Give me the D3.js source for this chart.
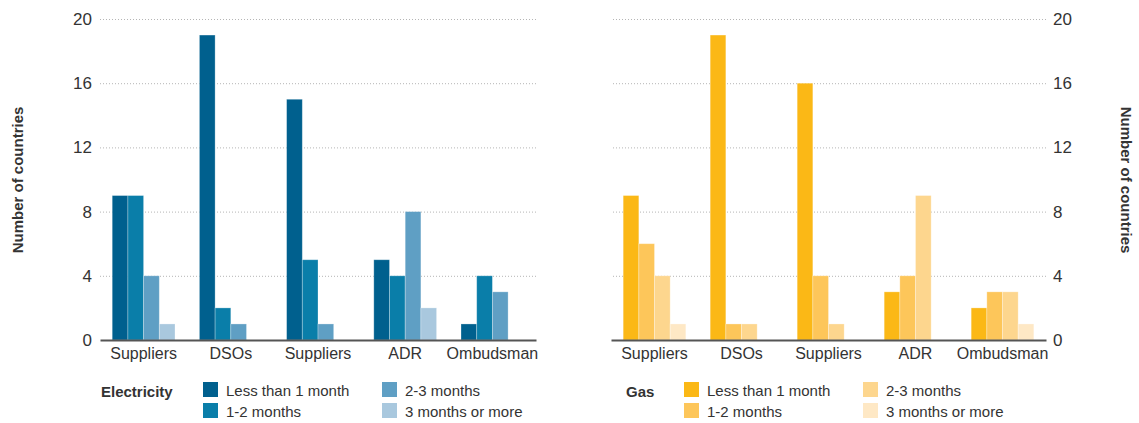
<!DOCTYPE html>
<html>
<head>
<meta charset="utf-8">
<script src="https://cdn.jsdelivr.net/npm/d3@7"></script>
<style>
  body { margin: 0; background: #fff; }
  svg text { font-family: "Liberation Sans", Arial, sans-serif; fill: #333; }
</style>
</head>
<body>
<div id="chart"></div>
<script>
var categories = ["Suppliers", "DSOs", "Suppliers", "ADR", "Ombudsman"];
var seriesNames = ["Less than 1 month", "1-2 months", "2-3 months", "3 months or more"];
var yTicks = [0, 4, 8, 12, 16, 20];

// electricity, one array per series, in category order
var elecLess1 = [9, 19, 15, 5, 1];
var elec1to2 = [9, 2, 5, 4, 4];
var elec2to3 = [4, 1, 1, 8, 3];
var elec3plus = [1, 0, 0, 2, 0];

// gas
var gasLess1 = [9, 19, 16, 3, 2];
var gas1to2 = [6, 1, 4, 4, 3];
var gas2to3 = [4, 1, 1, 9, 3];
var gas3plus = [1, 0, 0, 0, 1];

var elecColors = ["#00608e", "#0a7ea9", "#5f9fc4", "#a9c8de"];
var gasColors = ["#fbb816", "#fdc65a", "#fdd68e", "#fee8c5"];

var width = 1139, height = 423;

var svg = d3.select("#chart")
  .append("svg")
  .attr("width", width)
  .attr("height", height);

var y = d3.scaleLinear().domain([0, 20]).range([340, 19]);

function make_panel(x0, x1, series, colors, side, title) {
  var g = svg.append("g");

  var x = d3.scaleBand()
    .domain(d3.range(categories.length))
    .range([x0, x1])
    .paddingInner(0.28)
    .paddingOuter(0.14);

  var xs = d3.scaleBand()
    .domain(d3.range(series.length))
    .range([0, x.bandwidth()]);

  // gridlines + tick labels
  var yAxis = side == "left"
    ? d3.axisLeft(y).tickValues(yTicks).tickSize(-(x1 - x0)).tickPadding(8)
    : d3.axisRight(y).tickValues(yTicks).tickSize(-(x1 - x0)).tickPadding(7);

  var ya = g.append("g")
    .attr("transform", "translate(" + (side == "left" ? x0 : x1) + ",0)")
    .call(yAxis);
  ya.select(".domain").remove();
  ya.selectAll(".tick line")
    .attr("stroke", "#b5b5b5")
    .attr("stroke-dasharray", "1,2");
  ya.selectAll(".tick text")
    .style("font-size", "17px")
    .attr("fill", "#333");
  ya.selectAll(".tick").filter(function(d) { return d == 0; }).select("line").remove();

  // bars
  var groups = g.selectAll(".grp")
    .data(categories)
    .enter()
    .append("g")
    .attr("transform", function(d, i) { return "translate(" + x(i) + ",0)"; });

  groups.selectAll("rect")
    .data(function(d, i) {
      return series.map(function(s, k) { return {k: k, v: s[i]}; });
    })
    .enter()
    .filter(function(d) { return d.v > 0; })
    .append("rect")
    .attr("x", function(d) { return xs(d.k); })
    .attr("width", xs.bandwidth())
    .attr("y", function(d) { return y(d.v); })
    .attr("height", function(d) { return y(0) - y(d.v); })
    .attr("fill", function(d) { return colors[d.k]; })
    .attr("stroke", "rgba(255,255,255,0.35)")
    .attr("stroke-width", 0.8);

  // baseline + category labels
  var xa = g.append("g")
    .attr("transform", "translate(0," + y(0) + ")")
    .call(d3.axisBottom(x).tickSize(0).tickPadding(8)
      .tickFormat(function(i) { return categories[i]; }));
  xa.select(".domain").attr("stroke", "#555").attr("stroke-width", 2);
  xa.selectAll(".tick text").style("font-size", "16px").attr("fill", "#333");

  // y title
  var tx = side == "left" ? 18 : 1126;
  g.append("text")
    .attr("transform", "translate(" + tx + ",180) rotate(" + (side == "left" ? -90 : 90) + ")")
    .attr("text-anchor", "middle")
    .attr("dy", "0.35em")
    .style("font-size", "15px")
    .style("font-weight", "bold")
    .text("Number of countries");

  // legend
  var lx = side == "left" ? 101 : 626;
  var sx = side == "left" ? 203 : 684;
  var sx2 = side == "left" ? 382 : 863;
  g.append("text")
    .attr("x", lx).attr("y", 397)
    .style("font-size", "15px")
    .style("font-weight", "bold")
    .text(title);

  var leg = g.selectAll(".leg")
    .data(seriesNames)
    .enter()
    .append("g")
    .attr("transform", function(d, i) {
      return "translate(" + (i < 2 ? sx : sx2) + "," + (i % 2 == 0 ? 382 : 403) + ")";
    });
  leg.append("rect")
    .attr("width", 15).attr("height", 15)
    .attr("fill", function(d, i) { return colors[i]; });
  leg.append("text")
    .attr("x", 23).attr("y", 14)
    .style("font-size", "15px")
    .text(function(d) { return d; });
}

make_panel(100, 536, [elecLess1, elec1to2, elec2to3, elec3plus], elecColors, "left", "Electricity");
make_panel(611, 1046, [gasLess1, gas1to2, gas2to3, gas3plus], gasColors, "right", "Gas");
</script>
</body>
</html>
